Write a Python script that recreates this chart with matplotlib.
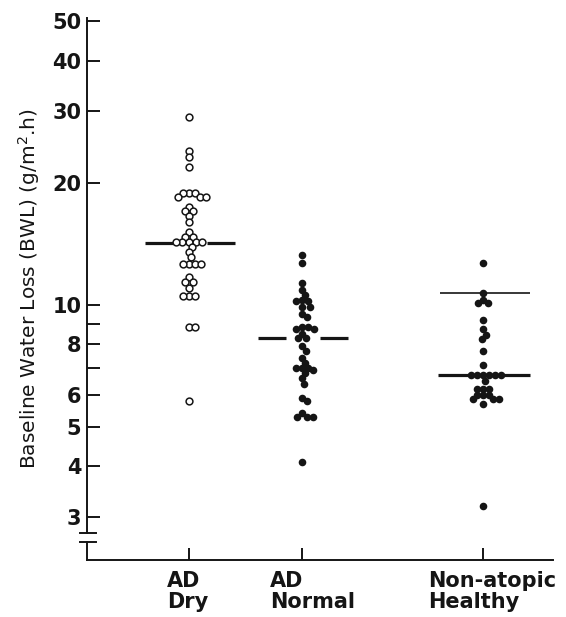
import numpy as np
import matplotlib
matplotlib.use("Agg")
import matplotlib.pyplot as plt
from matplotlib.transforms import blended_transform_factory

# values (g/m2.h)
ad_dry = [29.1, 23.9, 23.1, 21.9,
          18.9, 18.9, 18.9, 18.5, 18.5, 18.5,
          17.4, 17.0, 17.0, 16.6, 16.0,
          15.1, 14.7, 14.7, 14.3, 14.3, 14.3, 14.3, 14.3, 13.9,
          13.5, 13.1, 12.6, 12.6, 12.6, 12.6,
          11.7, 11.4, 11.4, 11.0,
          10.5, 10.5, 10.5, 8.8, 8.8, 5.8]
ad_normal = [13.3, 12.7, 11.3, 10.9, 10.6, 10.3, 10.2, 10.2, 9.9, 9.9, 9.5, 9.35,
             8.8, 8.8, 8.7, 8.7, 8.5, 8.3, 8.3, 7.9, 7.7, 7.4, 7.2,
             7.0, 7.0, 7.0, 6.9, 6.8, 6.6, 6.4, 5.9, 5.8, 5.4, 5.3, 5.3, 5.3, 4.1]
healthy = [12.7, 10.7, 10.3, 10.1, 10.1, 9.2, 8.7, 8.45, 8.25, 7.7, 7.1,
           6.7, 6.7, 6.7, 6.7, 6.7, 6.7, 6.5, 6.2, 6.2, 6.2, 6.0, 6.0, 6.0,
           5.85, 5.85, 5.85, 5.7, 3.2]

medians = [14.2, 8.3, 6.7]
healthy_upper = 10.7

groups = ["AD\nDry", "AD\nNormal", "Non-atopic\nHealthy"]
xpos = [1.0, 2.0, 3.6]
yticks = [3, 4, 5, 6, 8, 10, 20, 30, 40, 50]
yminor = [7, 9]

ink = "#151515"

fig = plt.figure(figsize=(5.66, 6.17), dpi=100)
ax = fig.add_axes([87 / 566, 1 - 560 / 617, (553 - 87) / 566, (560 - 18) / 617])
ax.set_yscale("log")
ax.set_xlim(0.097, 4.22)
ax.set_ylim(2.35, 51)


def swarm(xc, vals, d=6.0):
    # simple beeswarm in pixel space
    placed = []
    xs = []
    for v in vals:
        px, py = ax.transData.transform((xc, v))
        best = None
        for k in range(0, 40):
            for s in ([0] if k == 0 else [1, -1]):
                off = s * k * 1.0
                ok = all((off - ox) ** 2 + (py - oy) ** 2 >= d * d for ox, oy in placed)
                if ok:
                    best = off
                    break
            if best is not None:
                break
        placed.append((best, py))
        xs.append(ax.transData.inverted().transform((px + best, py))[0])
    return xs


x_dry = swarm(xpos[0], ad_dry, 5.6)
x_norm = swarm(xpos[1], ad_normal, 5.6)
x_hea = swarm(xpos[2], healthy, 5.6)

ax.scatter(x_dry, ad_dry, s=24, facecolors="white", edgecolors=ink, linewidths=1.1, zorder=3)
ax.scatter(x_norm, ad_normal, s=30, color=ink, linewidths=0, zorder=3)
ax.scatter(x_hea, healthy, s=30, color=ink, linewidths=0, zorder=3)

# median bars
for xc, m in zip(xpos[:2], medians[:2]):
    ax.plot([xc - 0.39, xc - 0.14], [m, m], color=ink, lw=2.3, solid_capstyle="butt", zorder=2)
    ax.plot([xc + 0.16, xc + 0.41], [m, m], color=ink, lw=2.3, solid_capstyle="butt", zorder=2)
ax.plot([xpos[2] - 0.40, xpos[2] + 0.42], [medians[2]] * 2, color=ink, lw=2.3,
        solid_capstyle="butt", zorder=2)
ax.plot([xpos[2] - 0.38, xpos[2] + 0.42], [healthy_upper] * 2, color=ink, lw=1.2,
        solid_capstyle="butt", zorder=2)

# axes
for sp in ["top", "right", "left"]:
    ax.spines[sp].set_visible(False)
ax.spines["bottom"].set_linewidth(1.4)
ax.spines["bottom"].set_color(ink)
trans = blended_transform_factory(ax.transAxes, ax.transData)
ax.plot([0, 0], [2.74, 51], color=ink, lw=1.4, transform=trans, clip_on=False)
ax.plot([0, 0], [2.35, 2.60], color=ink, lw=1.4, transform=trans, clip_on=False)
ax.plot([-0.015, 0.02], [2.74, 2.74], color=ink, lw=1.4, transform=trans, clip_on=False)
ax.plot([-0.015, 0.02], [2.60, 2.60], color=ink, lw=1.4, transform=trans, clip_on=False)

ax.set_yticks(yticks)
ax.set_yticklabels([str(t) for t in yticks], fontsize=15, fontweight="bold", color=ink)
ax.set_yticks(yminor, minor=True)
ax.set_yticklabels([], minor=True)
ax.tick_params(axis="y", which="both", direction="in", length=9, width=1.4, color=ink, pad=4)
ax.tick_params(axis="x", direction="in", length=9, width=1.4, color=ink)
ax.set_xticks(xpos)
ax.set_xticklabels([])

lab_off = [-0.195, -0.283, -0.485]
xt = blended_transform_factory(ax.transData, ax.transAxes)
for xc, o, g in zip(xpos, lab_off, groups):
    ax.text(xc + o, -0.02, g, transform=xt, ha="left", va="top", fontsize=15,
            fontweight="bold", color=ink, linespacing=1.1)

ax.set_ylabel("Baseline Water Loss (BWL) (g/m$^2$.h)", fontsize=14.5, color=ink)
ax.yaxis.set_label_coords(-0.097, 0.5)

fig.savefig("out.png", dpi=100, facecolor="white")
